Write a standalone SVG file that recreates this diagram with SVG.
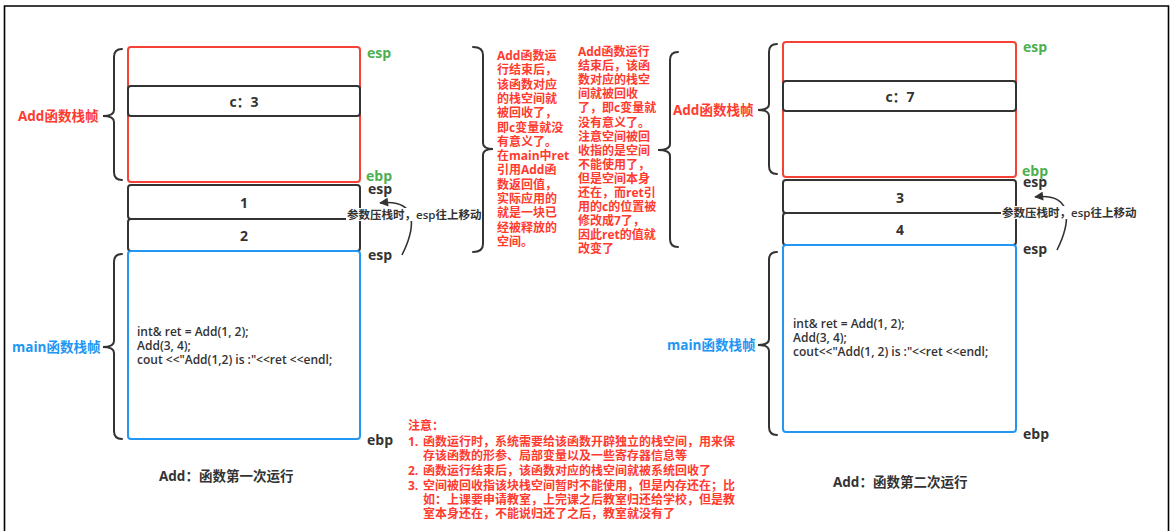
<svg xmlns="http://www.w3.org/2000/svg" width="1171" height="531" viewBox="0 0 1171 531">
<style>
text{font-family:"Open Sans","Noto Sans CJK SC",sans-serif;}
.box{fill:none;stroke:#333;stroke-width:2;}
.red{fill:none;stroke:#F44336;stroke-width:2;}
.blue{fill:none;stroke:#2196F3;stroke-width:2;}
.brace{fill:none;stroke:#333;stroke-width:2;stroke-linecap:round;}
.num{font-size:14px;font-weight:bold;fill:#333;text-anchor:middle;dominant-baseline:central;}
.reg{font-size:14px;font-weight:bold;fill:#333;dominant-baseline:central;}
.greg{font-size:14px;font-weight:bold;fill:#4CAF50;dominant-baseline:central;}
.lbl-r{font-size:13.5px;font-weight:bold;fill:#FF3B30;dominant-baseline:central;}
.lbl-b{font-size:13.5px;font-weight:bold;fill:#2196F3;dominant-baseline:central;}
.note{font-size:12px;font-weight:bold;fill:#FF3B30;dominant-baseline:central;}
.code{font-size:12px;font-weight:600;fill:#333;dominant-baseline:central;}
.ann{font-size:11.5px;font-weight:600;fill:#333;dominant-baseline:central;}
.cap{font-size:13.5px;font-weight:bold;fill:#333;dominant-baseline:central;}
.conn{fill:none;stroke:#333;stroke-width:1.6;}
</style>
<defs>
<marker id="ah" viewBox="0 0 10 10" refX="9" refY="5" markerWidth="10" markerHeight="9" orient="auto-start-reverse" markerUnits="userSpaceOnUse">
<path d="M0,0 L10,5 L0,10 z" fill="#333"/>
</marker>
</defs>
<rect width="1171" height="531" fill="#fff"/>
<path d="M4.5,531 L4.5,6 L1168.5,6 L1168.5,531" fill="none" stroke="#000" stroke-width="1.6"/>

<!-- Left diagram -->
<g id="left-add-frame">
<rect class="red" x="128" y="47" width="232" height="135" rx="3"/>
</g>
<g id="left-c">
<rect class="box" x="128" y="86" width="232" height="30" rx="3"/>
<text class="num" x="244" y="101">c：3</text>
</g>
<g id="left-1">
<rect class="box" x="128" y="185" width="232" height="34" rx="3"/>
<text class="num" x="244" y="202">1</text>
</g>
<g id="left-2">
<rect class="box" x="128" y="219" width="232" height="32" rx="3"/>
<text class="num" x="244" y="235">2</text>
</g>
<g id="left-main-frame">
<rect class="blue" x="128" y="251" width="232" height="188" rx="3"/>
<text class="code" x="137" y="331"><tspan x="137" y="331">int&amp; ret = Add(1, 2);</tspan><tspan x="137" y="345">Add(3, 4);</tspan><tspan x="137" y="359">cout &lt;&lt;"Add(1,2) is :"&lt;&lt;ret &lt;&lt;endl;</tspan></text>
</g>
<g id="left-labels">
<path class="brace" d="M122,49 Q114,49 114,57 L114,110 Q114,116 103,116 Q114,116 114,122 L114,172 Q114,180 122,180"/>
<text class="lbl-r" x="18" y="116">Add函数栈帧</text>
<path class="brace" d="M122,254 Q114,254 114,262 L114,341 Q114,347 103,347 Q114,347 114,353 L114,431 Q114,439 122,439"/>
<text class="lbl-b" x="12" y="347">main函数栈帧</text>
<text class="greg" x="367" y="52">esp</text>
<text class="greg" x="366" y="175">ebp</text>
<text class="reg" x="368" y="188">esp</text>
<text class="reg" x="368" y="254">esp</text>
<text class="reg" x="367" y="439">ebp</text>
<text class="cap" x="159" y="476">Add：函数第一次运行</text>
</g>

<!-- Right diagram -->
<g id="right-add-frame">
<rect class="red" x="783" y="42" width="233" height="135" rx="3"/>
</g>
<g id="right-c">
<rect class="box" x="783" y="81" width="233" height="30" rx="3"/>
<text class="num" x="900" y="96">c：7</text>
</g>
<g id="right-3">
<rect class="box" x="783" y="180" width="233" height="33" rx="3"/>
<text class="num" x="900" y="197">3</text>
</g>
<g id="right-4">
<rect class="box" x="783" y="213" width="233" height="32" rx="3"/>
<text class="num" x="900" y="229">4</text>
</g>
<g id="right-main-frame">
<rect class="blue" x="783" y="245" width="233" height="187" rx="3"/>
<text class="code" x="793" y="323"><tspan x="793" y="323">int&amp; ret = Add(1, 2);</tspan><tspan x="793" y="337">Add(3, 4);</tspan><tspan x="793" y="351">cout&lt;&lt;"Add(1, 2) is :"&lt;&lt;ret &lt;&lt;endl;</tspan></text>
</g>
<g id="right-labels">
<path class="brace" d="M777,44 Q769,44 769,52 L769,104 Q769,110 758,110 Q769,110 769,116 L769,166 Q769,174 777,174"/>
<text class="lbl-r" x="673" y="110">Add函数栈帧</text>
<path class="brace" d="M777,252 Q769,252 769,260 L769,339 Q769,345 758,345 Q769,345 769,351 L769,427 Q769,435 777,435"/>
<text class="lbl-b" x="667" y="345">main函数栈帧</text>
<text class="greg" x="1023" y="46">esp</text>
<text class="greg" x="1022" y="170">ebp</text>
<text class="reg" x="1023" y="181">esp</text>
<text class="reg" x="1023" y="248">esp</text>
<text class="reg" x="1023" y="433">ebp</text>
<text class="cap" x="833" y="482">Add：函数第二次运行</text>
</g>

<!-- Connectors -->
<g id="connectors">
<path class="conn" d="M402,255 C412,235 424,198 380,203" marker-end="url(#ah)"/>
<path class="conn" d="M1057,250 C1067,230 1079,192 1035,197" marker-end="url(#ah)"/>
</g>

<g id="left-annotation">
<rect x="346" y="208" width="138" height="13" fill="#fff"/>
<text class="ann" x="347" y="214.5">参数压栈时，esp往上移动</text>
</g>
<g id="right-annotation">
<rect x="1001" y="206" width="138" height="13" fill="#fff"/>
<text class="ann" x="1002" y="212.5">参数压栈时，esp往上移动</text>
</g>

<!-- Middle explanation -->
<g id="middle-brace-1">
<path class="brace" d="M473,47 Q483,47 483,55 L483,143 Q483,149 493,149 Q483,149 483,155 L483,244 Q483,252 473,252"/>
</g>
<g id="middle-text-1">
<text class="note" x="497" y="55"><tspan x="497" y="55">Add函数运</tspan><tspan x="497" y="69.3">行结束后，</tspan><tspan x="497" y="83.6">该函数对应</tspan><tspan x="497" y="97.9">的栈空间就</tspan><tspan x="497" y="112.2">被回收了，</tspan><tspan x="497" y="126.5">即c变量就没</tspan><tspan x="497" y="140.8">有意义了。</tspan><tspan x="497" y="155.1">在main中ret</tspan><tspan x="497" y="169.4">引用Add函</tspan><tspan x="497" y="183.7">数返回值，</tspan><tspan x="497" y="198">实际应用的</tspan><tspan x="497" y="212.3">就是一块已</tspan><tspan x="497" y="226.6">经被释放的</tspan><tspan x="497" y="240.9">空间。</tspan></text>
</g>
<g id="middle-text-2">
<text class="note" x="578" y="51"><tspan x="578" y="51">Add函数运行</tspan><tspan x="578" y="65.1">结束后，该函</tspan><tspan x="578" y="79.2">数对应的栈空</tspan><tspan x="578" y="93.3">间就被回收</tspan><tspan x="578" y="107.4">了，即c变量就</tspan><tspan x="578" y="121.5">没有意义了。</tspan><tspan x="578" y="135.6">注意空间被回</tspan><tspan x="578" y="149.7">收指的是空间</tspan><tspan x="578" y="163.8">不能使用了，</tspan><tspan x="578" y="177.9">但是空间本身</tspan><tspan x="578" y="192">还在，而ret引</tspan><tspan x="578" y="206.1">用的c的位置被</tspan><tspan x="578" y="220.2">修改成7了，</tspan><tspan x="578" y="234.3">因此ret的值就</tspan><tspan x="578" y="248.4">改变了</tspan></text>
</g>
<g id="middle-brace-2">
<path class="brace" d="M678,52 Q670,52 670,60 L670,144 Q670,150 658,150 Q670,150 670,156 L670,239 Q670,247 678,247"/>
</g>

<!-- Notes -->
<g id="notes">
<text class="note" x="408" y="425"><tspan x="408" y="425">注意：</tspan><tspan x="408" y="441">1. </tspan><tspan x="423" y="441">函数运行时，系统需要给该函数开辟独立的栈空间，用来保</tspan><tspan x="423" y="455">存该函数的形参、局部变量以及一些寄存器信息等</tspan><tspan x="408" y="469.5">2. </tspan><tspan x="423" y="469.5">函数运行结束后，该函数对应的栈空间就被系统回收了</tspan><tspan x="408" y="485">3. </tspan><tspan x="423" y="485">空间被回收指该块栈空间暂时不能使用，但是内存还在；比</tspan><tspan x="423" y="499">如：上课要申请教室，上完课之后教室归还给学校，但是教</tspan><tspan x="423" y="513">室本身还在，不能说归还了之后，教室就没有了</tspan></text>
</g>
</svg>
